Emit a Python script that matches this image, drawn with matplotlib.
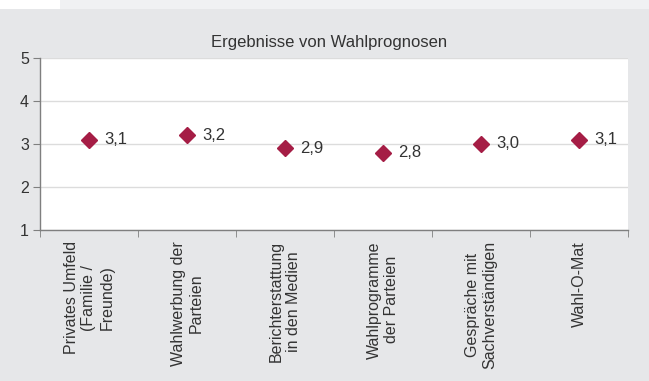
import matplotlib.pyplot as plt
from matplotlib.patches import Rectangle

plt.rcParams['font.family'] = ['Liberation Sans', 'DejaVu Sans']

# Survey results
categories = [
    'Privates Umfeld\n(Familie /\nFreunde)',
    'Wahlwerbung der\nParteien',
    'Berichterstattung\nin den Medien',
    'Wahlprogramme\nder Parteien',
    'Gespräche mit\nSachverständigen',
    'Wahl-O-Mat',
]
values = [3.1, 3.2, 2.9, 2.8, 3.0, 3.1]
value_labels = ['3,1', '3,2', '2,9', '2,8', '3,0', '3,1']

bg = '#e6e7e9'
marker_color = '#a51d45'
text_color = '#333333'
axis_color = '#7f7f7f'

W, H = 649, 381
fig = plt.figure(figsize=(W / 100, H / 100), dpi=100, facecolor=bg)

# strip along the top edge
fig.add_artist(Rectangle((0, 1 - 9 / H), 60 / W, 9 / H, transform=fig.transFigure,
                         facecolor='white', edgecolor='none'))
fig.add_artist(Rectangle((60 / W, 1 - 9 / H), 1 - 60 / W, 9 / H, transform=fig.transFigure,
                         facecolor='#f0f1f3', edgecolor='none'))

ax = fig.add_axes([40 / W, (H - 230) / H, (628 - 40) / W, (230 - 58) / H])
ax.set_facecolor('white')

x = list(range(1, len(categories) + 1))
ax.plot(x, values, linestyle='none', marker='D', markersize=8,
        color=marker_color, zorder=3)
for xi, v, lab in zip(x, values, value_labels):
    ax.annotate(lab, (xi, v), xytext=(11, 0), textcoords='offset points',
                va='center', ha='left', fontsize=12, color=text_color)

ax.set_xlim(0.5, len(categories) + 0.5)
ax.set_ylim(1, 5)
ax.set_yticks([1, 2, 3, 4, 5])
ax.yaxis.grid(True, color='#dcdcdc', linewidth=1)
ax.set_axisbelow(True)

ax.set_xticks(x)
ax.set_xticklabels(categories, rotation=90, ha='center', va='top',
                   multialignment='center', linespacing=1.25,
                   fontsize=11.5, color=text_color)
ax.set_xticks([i + 0.5 for i in range(len(categories) + 1)], minor=True)
ax.tick_params(axis='x', which='major', length=0, pad=8)
ax.tick_params(axis='x', which='minor', length=5, color=axis_color, direction='out')
ax.tick_params(axis='y', length=5, color=axis_color, labelsize=11.5,
               labelcolor=text_color, pad=3)

for side in ('top', 'right'):
    ax.spines[side].set_visible(False)
for side in ('left', 'bottom'):
    ax.spines[side].set_color(axis_color)
    ax.spines[side].set_linewidth(1)

fig.text(329 / W, 1 - 42 / H, 'Ergebnisse von Wahlprognosen',
         ha='center', va='center', fontsize=12, color=text_color)

fig.savefig('out.png', dpi=100, facecolor=bg)
